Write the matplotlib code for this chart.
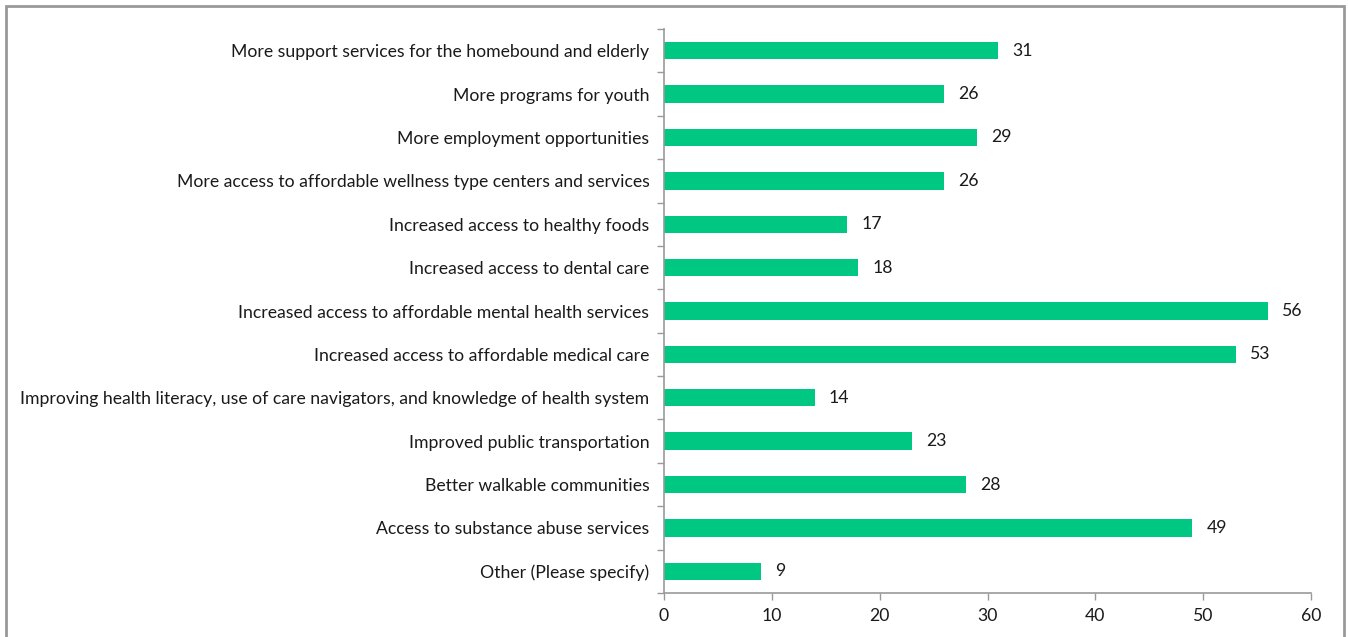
import numpy as np
import matplotlib.pyplot as plt
from matplotlib.patches import Rectangle

categories = [
    "More support services for the homebound and elderly",
    "More programs for youth",
    "More employment opportunities",
    "More access to affordable wellness type centers and services",
    "Increased access to healthy foods",
    "Increased access to dental care",
    "Increased access to affordable mental health services",
    "Increased access to affordable medical care",
    "Improving health literacy, use of care navigators, and knowledge of health system",
    "Improved public transportation",
    "Better walkable communities",
    "Access to substance abuse services",
    "Other (Please specify)",
]
counts = [31, 26, 29, 26, 17, 18, 56, 53, 14, 23, 28, 49, 9]
xticks = [0, 10, 20, 30, 40, 50, 60]

plt.rcParams["font.family"] = ["Lato", "DejaVu Sans"]
fs = 12.7

fig = plt.figure(figsize=(13.48, 6.37), dpi=100)
ax = fig.add_axes([664 / 1348, 1 - 593 / 637, (1311 - 664) / 1348, (593 - 29) / 637])

n = len(categories)
y = np.arange(n)[::-1]
ax.barh(y, counts, height=0.4, color="#00C781")
for yi, v in zip(y, counts):
    ax.text(v + 1.3, yi, str(v), va="center", ha="left", fontsize=fs, color="#1a1a1a")

ax.set_xlim(0, 60)
ax.set_ylim(-0.5, n - 0.5)
ax.set_xticks(xticks)
ax.set_xticklabels([str(t) for t in xticks], fontsize=fs)
ax.set_yticks(y)
ax.set_yticklabels(categories, fontsize=fs, color="#1a1a1a")
ax.set_yticks(np.arange(n + 1) - 0.5, minor=True)
ax.tick_params(axis="y", which="major", length=0, pad=10.5)
ax.tick_params(axis="y", which="minor", length=5, color="#999999", width=1)
ax.tick_params(axis="x", length=5, color="#999999", width=1, pad=6, labelcolor="#1a1a1a")
for s in ["top", "right"]:
    ax.spines[s].set_visible(False)
for s in ["left", "bottom"]:
    ax.spines[s].set_color("#999999")
    ax.spines[s].set_linewidth(1.2)

fig.patches.append(Rectangle((6 / 1348, -0.01), 1338 / 1348, 1 - 6 / 637 + 0.01,
                             transform=fig.transFigure, fill=False,
                             edgecolor="#999999", linewidth=2))

fig.savefig("out.png", dpi=100)
